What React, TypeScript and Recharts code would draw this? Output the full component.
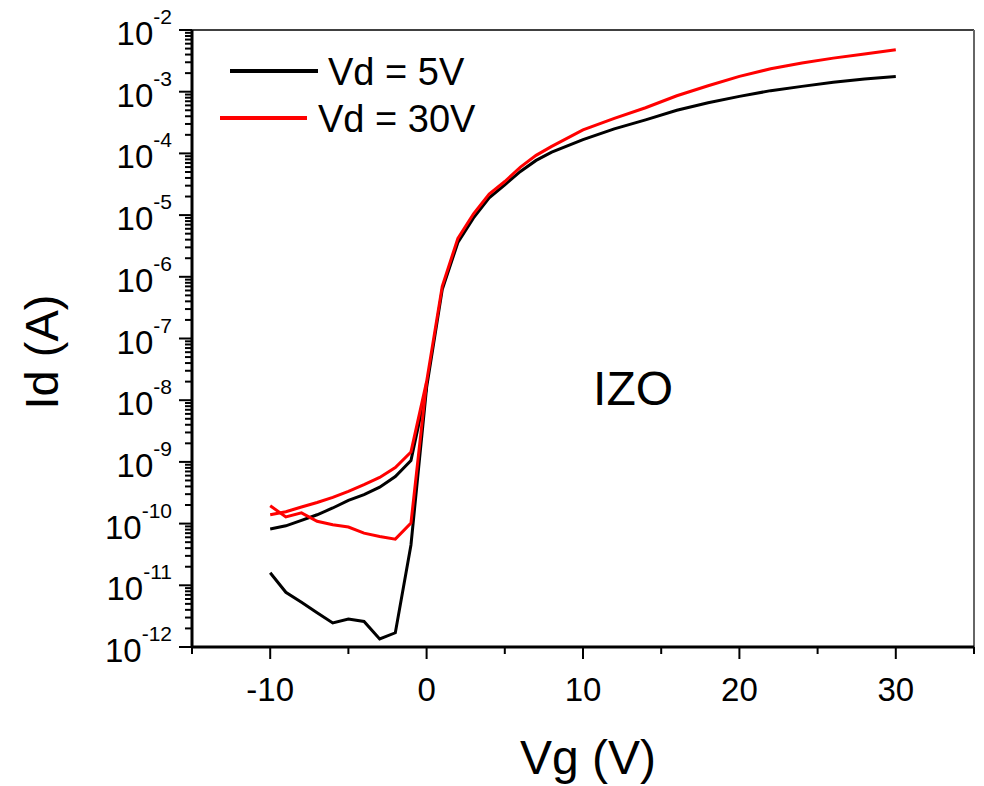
import { Label, Legend, Line, LineChart, ReferenceDot, ReferenceLine, XAxis, YAxis } from "recharts"

// gate sweep, -10 V up to 30 V (forward) and back down below 0 V (return)
const vgSweep = [-10, -9, -8, -7, -6, -5, -4, -3, -2, -1, 0, 1, 2, 3, 4, 5, 6, 7, 8, 10, 12, 14, 16, 18, 20, 22, 24, 26, 28, 30]
const id5Sweep = [
  1.6e-11, 7.7e-12, 5.3e-12, 3.6e-12, 2.45e-12, 2.85e-12, 2.6e-12, 1.35e-12, 1.7e-12, 4.5e-11,
  1.6e-8, 6.2e-7, 3.6e-6, 9e-6, 1.9e-5, 3.1e-5, 5.1e-5, 7.7e-5, 1.05e-4, 1.67e-4,
  2.5e-4, 3.5e-4, 5.0e-4, 6.6e-4, 8.4e-4, 1.04e-3, 1.22e-3, 1.42e-3, 1.61e-3, 1.77e-3,
]
const id30Sweep = [
  1.95e-10, 1.28e-10, 1.49e-10, 1.09e-10, 9.6e-11, 8.8e-11, 7.0e-11, 6.2e-11, 5.6e-11, 1.02e-10,
  2e-8, 7e-7, 4.2e-6, 1.05e-5, 2.2e-5, 3.5e-5, 6.0e-5, 9.3e-5, 1.3e-4, 2.4e-4,
  3.7e-4, 5.5e-4, 8.6e-4, 1.25e-3, 1.77e-3, 2.36e-3, 2.92e-3, 3.5e-3, 4.1e-3, 4.8e-3,
]

const vgReturn = [0, -1, -2, -3, -4, -5, -6, -7, -8, -9, -10]
const id5Return = [1.6e-8, 1.05e-9, 5.8e-10, 3.9e-10, 2.95e-10, 2.38e-10, 1.79e-10, 1.39e-10, 1.13e-10, 9.2e-11, 8.2e-11]
const id30Return = [2e-8, 1.45e-9, 8.1e-10, 5.6e-10, 4.27e-10, 3.33e-10, 2.66e-10, 2.2e-10, 1.86e-10, 1.56e-10, 1.39e-10]

const xTicks = [-15, -10, -5, 0, 5, 10, 15, 20, 25, 30, 35]
const decades = [-12, -11, -10, -9, -8, -7, -6, -5, -4, -3, -2]
const minorSteps = [2, 3, 4, 5, 6, 7, 8, 9]

const legendItems = [
  { name: "Vd = 5V", color: "#000000" },
  { name: "Vd = 30V", color: "#ff0000" },
]

const FONT = "'Liberation Sans', Arial, Helvetica, sans-serif"

const toPoints = (xs: number[], ys: number[]) => xs.map((vg, i) => ({ vg, id: ys[i] }))

// decade ticks plus log minor ticks
const yTicks: number[] = []
decades.forEach((e) => {
  yTicks.push(Number(`1e${e}`))
  if (e < -2) minorSteps.forEach((m) => yTicks.push(Number(`${m}e${e}`)))
})

const YTick = (props: any) => {
  const { x, y, payload } = props
  const lg = Math.log10(payload.value)
  const exp = Math.round(lg)
  const major = Math.abs(lg - exp) < 1e-6
  return (
    <g>
      <line x1={x - (major ? 13 : 7)} x2={x} y1={y} y2={y} stroke="#000" strokeWidth={2} />
      {major && (
        <text x={x - 20} y={y + 15} textAnchor="end" fontSize={33} fontFamily={FONT} fill="#000">
          10
          <tspan dy={-21} fontSize={21}>
            {exp}
          </tspan>
        </text>
      )}
    </g>
  )
}

const XTick = (props: any) => {
  const { x, y, payload } = props
  const major = payload.value % 10 === 0
  return (
    <g>
      <line x1={x} x2={x} y1={y} y2={y + (major ? 12 : 7)} stroke="#000" strokeWidth={2} />
      {major && (
        <text x={x} y={y + 54} textAnchor="middle" fontSize={33} fontFamily={FONT} fill="#000">
          {payload.value}
        </text>
      )}
    </g>
  )
}

const renderLegend = () => (
  <svg width={300} height={100} style={{ display: "block" }}>
    {legendItems.map((item, i) => (
      <g key={item.name}>
        <line x1={15 - i * 10} x2={103 - i * 11} y1={31 + i * 47} y2={31 + i * 47} stroke={item.color} strokeWidth={4} />
        <text x={113 - i * 10} y={45 + i * 47} fontSize={38} fontFamily={FONT} fill="#000">
          {item.name}
        </text>
      </g>
    ))}
  </svg>
)

export default function App() {
  return (
    <div style={{ position: "absolute", left: 0, top: 0, width: 984, height: 786, background: "#fff", fontFamily: FONT }}>
      <LineChart width={984} height={786} margin={{ top: 30, right: 10, bottom: 0, left: 0 }} style={{ fontFamily: FONT }}>
        <XAxis
          dataKey="vg"
          type="number"
          domain={[-15, 35]}
          ticks={xTicks}
          interval={0}
          height={139}
          tickSize={0}
          tickMargin={0}
          tickLine={false}
          axisLine={{ stroke: "#000", strokeWidth: 3 }}
          tick={XTick}
          allowDataOverflow
        >
          <Label
            content={() => (
              <text x={588} y={774} textAnchor="middle" fontSize={48} fontFamily={FONT} fill="#000">
                Vg (V)
              </text>
            )}
          />
        </XAxis>
        <YAxis
          type="number"
          scale="log"
          domain={[1e-12, 1e-2]}
          ticks={yTicks}
          interval={0}
          width={192}
          tickSize={0}
          tickMargin={0}
          tickLine={false}
          axisLine={{ stroke: "#000", strokeWidth: 3 }}
          tick={YTick}
          allowDataOverflow
        >
          <Label
            content={() => (
              <text transform="translate(58,352) rotate(-90)" textAnchor="middle" fontSize={47} fontFamily={FONT} fill="#000">
                Id (A)
              </text>
            )}
          />
        </YAxis>
        <ReferenceLine y={1e-2} stroke="#000" strokeWidth={1.5} />
        <ReferenceLine x={35} stroke="#666" strokeWidth={2} />
        <Line data={toPoints(vgSweep, id5Sweep)} dataKey="id" stroke="#000" strokeWidth={3} dot={false} isAnimationActive={false} />
        <Line data={toPoints(vgReturn, id5Return)} dataKey="id" stroke="#000" strokeWidth={3} dot={false} isAnimationActive={false} />
        <Line data={toPoints(vgSweep, id30Sweep)} dataKey="id" stroke="#ff0000" strokeWidth={3} dot={false} isAnimationActive={false} />
        <Line data={toPoints(vgReturn, id30Return)} dataKey="id" stroke="#ff0000" strokeWidth={3} dot={false} isAnimationActive={false} />
        <ReferenceDot
          x={13.2}
          y={1.6e-8}
          r={0}
          fill="none"
          stroke="none"
          label={{ value: "IZO", position: "center", fontSize: 48, fill: "#000", fontFamily: FONT }}
        />
        <Legend
          layout="vertical"
          align="center"
          verticalAlign="middle"
          content={renderLegend}
          wrapperStyle={{ position: "absolute", left: 215, top: 40, width: 300, height: 100 }}
        />
      </LineChart>
    </div>
  )
}
